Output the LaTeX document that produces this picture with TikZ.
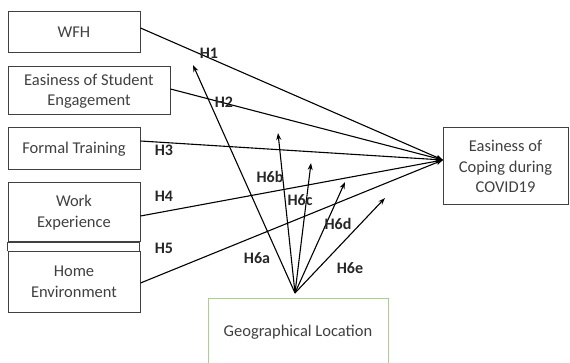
\documentclass[tikz,border=0pt]{standalone}
\usepackage{fontspec}
\setmainfont{Carlito}
\usetikzlibrary{arrows.meta}
\definecolor{boxtext}{HTML}{404040}
\definecolor{geogreen}{HTML}{A9D18E}
\tikzset{
  varbox/.style={draw=black!75, line width=1pt, inner sep=0pt, align=center,
    text=boxtext, font=\fontsize{16.5}{20.5}\selectfont},
  hlab/.style={font=\bfseries\fontsize{16}{18}\selectfont, text=black!85, inner sep=0pt},
  link/.style={line width=1.1pt, -{Stealth[length=7pt,width=5pt]}},
}
\begin{document}
\begin{tikzpicture}[x=1pt,y=-1pt]
\useasboundingbox (0,0) rectangle (570,363);
\node[varbox, minimum width=132pt, minimum height=41pt] (wfh) at (74,32.5) {WFH};
\node[varbox, minimum width=162pt, minimum height=48pt] (ese) at (89,91) {Easiness of Student\\Engagement};
\node[varbox, minimum width=132pt, minimum height=42pt] (ft) at (74,149) {Formal Training};
\node[varbox, minimum width=132pt, minimum height=59pt] (we) at (74,212.5) {Work\\Experience};
\node[varbox, minimum width=132pt, minimum height=60pt] (he) at (74,282) {Home\\Environment};
\draw[black!75, line width=1pt] (he.north west) -- ++(0,-9) -- ++(132,0) -- ++(0,9);
\node[varbox, minimum width=125pt, minimum height=77pt] (cope) at (505.5,166.5) {Easiness of\\Coping during\\COVID19};
\node[text=boxtext, font=\fontsize{16.5}{20}\selectfont, inner sep=0pt] (geo) at (298,332) {Geographical Location};
\draw[geogreen, line width=1pt] (208,370) -- (208,298) -- (388,298) -- (388,370);
\coordinate (tgt) at (443,160);
\coordinate (src) at (295,293);
\coordinate (t6a) at (193,65);
\coordinate (t6b) at (278,133);
\coordinate (t6c) at (311,163);
\coordinate (t6d) at (345,182);
\coordinate (t6e) at (385,198);
\draw[link] ([yshift=4.5pt]wfh.east) -- (tgt);
\draw[link] ([yshift=2pt]ese.east) -- (tgt);
\draw[link] ([yshift=8pt]ft.east) -- (tgt);
\draw[link] ([yshift=-3.5pt]we.east) -- (tgt);
\draw[link] ([yshift=-1pt]he.east) -- (tgt);
\foreach \t in {t6a,t6b,t6c,t6d,t6e} \draw[link] (src) -- (\t);
\node[hlab] (h1) at (209,53) {H1};
\node[hlab] (h2) at (224,102) {H2};
\node[hlab] (h3) at (164,150) {H3};
\node[hlab] (h4) at (164,196) {H4};
\node[hlab] (h5) at (164,248) {H5};
\node[hlab] (h6a) at (257,258) {H6a};
\node[hlab] (h6b) at (270,177) {H6b};
\node[hlab] (h6c) at (300,200) {H6c};
\node[hlab] (h6d) at (338,224) {H6d};
\node[hlab] (h6e) at (350,268) {H6e};
\end{tikzpicture}
\end{document}
